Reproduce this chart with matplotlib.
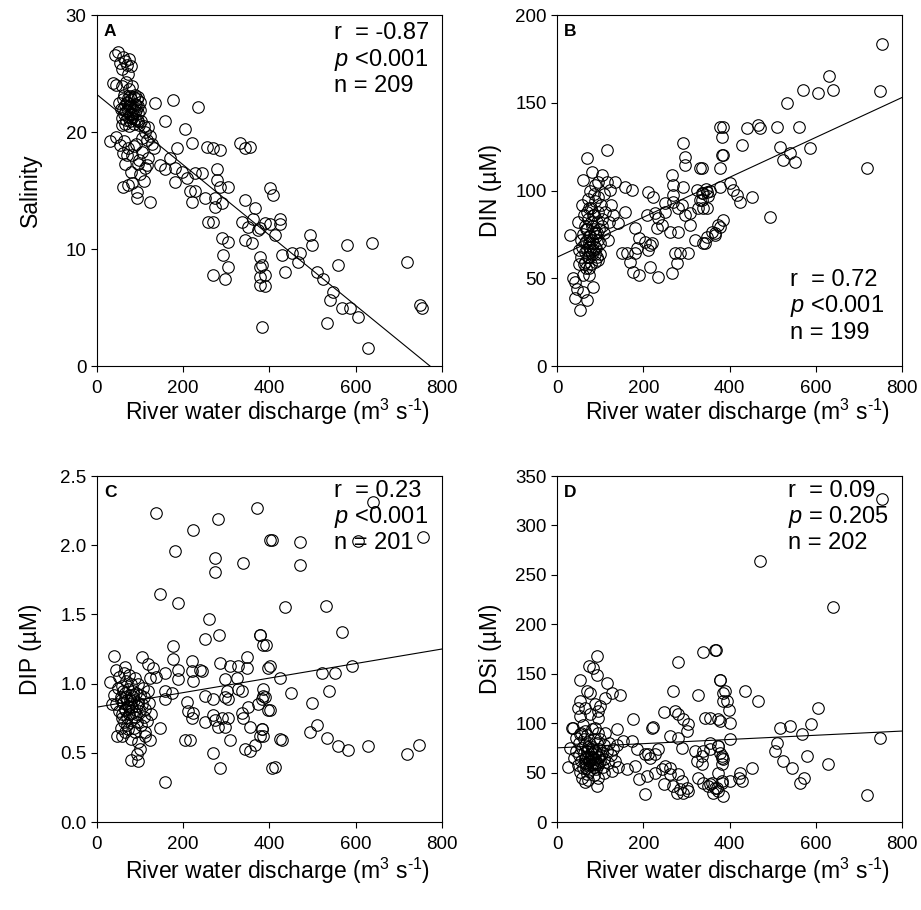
import matplotlib
matplotlib.use('Agg')
import matplotlib.pyplot as plt
from matplotlib.ticker import FormatStrFormatter

plt.rcParams['font.family'] = ['Liberation Sans', 'DejaVu Sans']
plt.rcParams['mathtext.fontset'] = 'custom'
plt.rcParams['mathtext.it'] = 'Liberation Sans:italic'
plt.rcParams['mathtext.rm'] = 'Liberation Sans'

# ---- panel A: salinity ----
sal_x = [42, 53, 70, 48, 60, 65, 75, 80, 58, 72,
         37, 58, 81, 88, 45, 68, 75, 95, 100,
         50, 55, 60, 62, 65, 68, 70, 72, 75, 76, 78, 80, 82, 84, 86, 88, 90, 92, 95, 98, 100, 103, 57, 66, 74, 85, 63, 93,
         67, 73, 79, 83, 87, 91, 96, 71, 77, 89, 94, 61, 69,
         111, 123, 58, 108, 115, 118, 105, 128, 133,
         53, 72, 70, 81, 104, 118, 111, 30, 45, 62, 90, 98, 85, 60,
         65, 95, 116, 72, 60, 81, 93, 93, 123, 80, 100, 108,
         134, 176, 234, 204, 158, 220, 255, 269, 285, 332, 343, 186, 145, 170,
         158, 181, 197, 181, 209, 227, 243, 278, 216, 227, 250, 274, 220, 274, 290, 285, 304, 278, 257, 269, 290, 304, 292, 304, 269, 297,
         343, 366, 336, 350, 373, 343, 359, 378, 378, 378, 378, 383,
         401, 408, 355, 362, 378, 390, 401, 424, 424, 413, 383, 390, 390, 429, 436, 452, 471, 466, 494, 499, 510, 524, 559, 580, 638,
         547, 540, 568, 587, 605, 533, 628, 719, 749, 754]
sal_y = [26.6, 25.9, 25.7, 26.8, 26.4, 26.1, 26.2, 25.6, 25.4, 25.0,
         24.2, 23.9, 23.9, 23.2, 24.0, 24.3, 23.7, 23.0, 22.6,
         22.5, 22.0, 22.8, 21.5, 22.3, 21.0, 22.6, 21.8, 22.2, 20.9, 21.5, 22.8, 21.2, 22.0, 20.7, 21.7, 22.3, 21.0, 21.6, 20.6, 21.9, 20.9, 21.2, 20.7, 20.5, 23.0, 23.2, 22.8,
         21.8, 21.3, 22.1, 21.5, 22.4, 21.9, 22.2, 22.9, 23.1, 21.1, 20.9, 22.0, 22.5,
         20.0, 19.7, 20.6, 20.5, 19.3, 20.4, 19.5, 19.0, 18.6,
         18.9, 18.6, 18.0, 18.0, 18.3, 17.8, 16.9, 19.2, 19.6, 19.2, 19.0, 17.6, 18.8, 18.2,
         17.3, 17.3, 17.2, 15.5, 15.3, 15.6, 14.9, 14.4, 14.0, 16.6, 16.4, 15.8,
         22.5, 22.7, 22.1, 20.3, 20.9, 19.1, 18.7, 18.6, 18.5, 19.1, 18.6, 18.6, 17.2, 17.8,
         16.8, 16.9, 16.6, 15.7, 16.1, 16.5, 16.5, 16.8, 15.0, 15.0, 14.4, 14.4, 14.0, 13.6, 13.9, 15.3, 15.3, 15.9, 12.3, 12.3, 10.9, 10.6, 9.5, 8.5, 7.8, 7.4,
         14.2, 13.5, 12.3, 11.9, 11.6, 10.8, 10.5, 9.3, 8.5, 7.6, 6.9, 3.3,
         15.2, 14.6, 18.7, 12.6, 11.8, 12.2, 12.1, 12.6, 12.1, 11.2, 8.6, 7.8, 6.8, 9.5, 8.0, 9.7, 9.7, 8.9, 11.2, 10.3, 8.0, 7.4, 8.6, 10.3, 10.5,
         6.3, 5.6, 5.0, 5.0, 4.2, 3.7, 1.5, 8.9, 5.2, 5.0]

# ---- panel B: DIN ----
din_x = [115, 70, 80, 61, 104, 115, 134, 158, 173, 88, 96, 123, 30, 49, 69, 73,
         38, 46, 61, 42, 69, 53, 84, 42, 73, 88, 65, 84, 96,
         55, 58, 60, 62, 64, 66, 68, 70, 72, 74, 75, 77, 78, 80, 82, 84, 85, 87, 88, 90, 92, 94, 96, 98, 100, 102, 105, 108, 110,
         63, 71, 56, 67, 79, 92, 100, 52, 59, 76, 86, 95, 104, 112, 120, 118, 125, 130, 60, 50, 75,
         65, 69, 73, 77, 81, 85, 89, 93, 71, 79, 87, 67, 83, 91, 75,
         158, 142, 150, 162, 169, 181, 181, 189, 185, 177, 189, 204, 216, 220, 212, 216, 235, 266, 262, 281, 274, 285, 304, 278,
         212, 223, 208, 227, 235, 243, 231, 250, 270, 250, 270, 270, 266, 281, 289, 297, 308, 308, 293, 293, 297, 297,
         336, 324, 336, 347, 336, 328, 347, 320, 343, 359, 366, 378, 378, 382, 382, 378, 378,
         753, 749, 718, 631, 641, 606, 571, 533, 494, 560, 509, 471, 467, 440, 386, 428, 386, 517, 540, 587, 525, 552,
         331, 339, 401, 409, 417, 424, 451, 331, 339, 386, 374, 366, 347, 339, 345, 355, 350]
din_y = [123, 118.7, 110.7, 106, 108.8, 105, 105, 102.2, 100.3, 103, 96.5, 100.3, 74.6, 82, 88, 90,
         50, 44, 42.3, 38.5, 37.6, 31.9, 45.2, 48, 55.7, 59.4, 59.4, 66, 60.4,
         62, 68, 75, 58, 80, 65, 71, 78, 84, 62, 68, 74, 90, 64, 80, 70, 86, 76, 94, 67, 82, 72, 88, 78, 70, 92, 84, 76, 98,
         86, 95, 72, 56, 58, 62, 64, 66, 92, 100, 98, 105, 80, 88, 82, 72, 92, 86, 52, 58, 52,
         70, 66, 74, 66, 72, 78, 68, 76, 62, 82, 64, 78, 86, 74, 70,
         88, 81.3, 64.2, 64.2, 59.4, 64.2, 78.5, 72.8, 67, 53.7, 51.9, 70.8, 69, 69.9, 66, 56.6, 50.9, 52.8, 76.5, 76.5, 64.2, 64.2, 64.2, 58.5,
         99.3, 96.5, 86, 87, 84.2, 80.3, 78.5, 92.7, 93.6, 88, 97.4, 103, 108.8, 89.9, 91.7, 86, 87, 80.3, 102.2, 126.9, 119.3, 114.5,
         112.6, 100.3, 98.4, 99.3, 94.6, 89.9, 89.9, 71.8, 69.9, 76.5, 75.6, 79.4, 136.3, 130.7, 120.2, 112.6, 102.2,
         183.3, 156.7, 113, 165.4, 157.3, 155.4, 157.3, 149.7, 85.1, 136.3, 136.3, 135.4, 137.3, 135.4, 136.3, 125.9, 120.2, 125, 121.2, 124, 117.4, 116.4,
         112.6, 98.4, 104.1, 100.3, 97.4, 93.6, 96.5, 94.6, 89.9, 83.2, 80.3, 74.6, 73.7, 69.9, 101, 100, 97]

# ---- panel C: DIP ----
dip_x = [138, 181, 222, 281, 370, 401, 274, 274, 339, 146, 187, 260, 250, 283, 378, 391, 177, 177, 39, 104, 119, 131,
         220, 243, 239, 158, 189, 189, 138, 123, 220, 223, 285, 308, 328, 347, 347, 297, 324, 301, 328, 336, 401,
         158, 173, 250, 270, 297, 304, 208, 212, 223, 220, 250, 270, 274, 289, 304, 281, 297,
         336, 339, 355, 351, 374, 382, 386, 397, 382, 378, 366, 355, 343, 308, 204, 216, 270, 285, 405, 158,
         146, 123, 111, 111, 80, 96, 92, 100, 46, 65, 73, 88, 30, 158,
         40, 45, 48, 50, 52, 55, 57, 58, 60, 62, 63, 65, 66, 68, 70, 70, 72, 74, 75, 76, 78, 80, 80, 82, 84, 85, 86, 88,
         90, 90, 92, 94, 95, 98, 100, 102, 104, 106, 108, 110, 112, 115, 118, 120, 125, 55, 65, 45, 35, 58, 78, 95,
         56, 61, 67, 71, 77, 83, 59, 64, 69, 74, 81, 87, 93,
         641, 755, 606, 405, 471, 471, 436, 531, 567, 378, 386, 397, 424, 521, 552, 591, 386, 390, 401, 451, 539,
         498, 510, 494, 533, 560, 581, 629, 718, 747, 424, 428, 413, 382, 386]
dip_y = [2.23, 1.96, 2.11, 2.19, 2.27, 2.04, 1.91, 1.81, 1.87, 1.65, 1.58, 1.47, 1.32, 1.35, 1.35, 1.28, 1.27, 1.18, 1.20, 1.19, 1.14, 1.11,
         1.16, 1.09, 1.10, 1.08, 1.10, 1.03, 1.05, 1.04, 1.09, 1.02, 1.15, 1.13, 1.13, 1.19, 1.11, 1.03, 1.04, 0.95, 0.96, 0.95, 1.13,
         0.89, 0.93, 0.91, 0.89, 0.90, 0.89, 0.87, 0.80, 0.79, 0.75, 0.72, 0.77, 0.74, 0.75, 0.75, 0.69, 0.69,
         0.79, 0.75, 0.69, 0.83, 0.85, 0.89, 0.91, 0.81, 0.67, 0.62, 0.56, 0.51, 0.53, 0.59, 0.59, 0.59, 0.50, 0.39, 0.39, 0.29,
         0.68, 0.59, 0.62, 0.65, 0.45, 0.44, 0.49, 0.53, 0.62, 0.65, 0.67, 0.65, 1.01, 0.95,
         0.92, 0.85, 0.97, 0.80, 1.05, 0.90, 0.75, 0.98, 0.86, 1.08, 0.72, 0.93, 0.81, 1.02, 0.88, 0.70, 0.96, 0.78, 1.06, 0.85, 0.92, 0.74, 1.00, 0.83, 0.95, 0.68, 0.88, 1.04,
         0.78, 0.93, 0.72, 0.86, 1.00, 0.80, 0.92, 0.70, 0.85, 0.97, 0.76, 0.90, 0.82, 0.73, 0.95, 0.86, 0.78, 0.68, 1.12, 1.10, 0.85, 0.62, 0.60, 0.58,
         0.88, 0.95, 0.90, 0.84, 0.88, 0.90, 0.78, 0.82, 0.76, 0.83, 0.79, 0.76, 0.84,
         2.31, 2.06, 2.03, 2.04, 2.02, 1.86, 1.55, 1.56, 1.37, 1.35, 1.28, 1.11, 1.04, 1.08, 1.08, 1.13, 0.96, 0.90, 0.81, 0.93, 0.95,
         0.86, 0.70, 0.65, 0.61, 0.55, 0.52, 0.55, 0.49, 0.56, 0.60, 0.59, 0.40, 0.67, 0.62]

# ---- panel D: DSi ----
dsi_x = [92, 73, 84, 53, 92, 115, 69, 77, 127, 146, 111, 53, 49, 65, 88, 96, 100, 77, 53, 96, 88, 65, 38, 53, 138,
         177, 220, 222, 247, 270, 281, 338, 368, 328, 378, 386, 386, 274, 281, 293, 304, 301, 343, 374, 262, 281, 289,
         320, 336, 339, 336, 324, 374, 378, 382, 154, 173, 185, 204, 216, 212, 227, 235, 142, 162, 181, 189, 208, 227,
         243, 250, 262, 247, 262, 281, 289, 270, 285, 301, 278, 293, 304, 204, 328, 339, 351, 359, 366, 374, 382, 374,
         382, 26, 53, 65, 92, 69, 34, 30,
         40, 45, 48, 50, 52, 55, 56, 58, 60, 62, 63, 65, 66, 68, 70, 70, 72, 74, 75, 76, 78, 80, 80, 82, 84, 85, 86, 88,
         88, 90, 92, 94, 95, 96, 98, 100, 100, 104, 106, 108, 110, 112, 115, 118, 120, 125, 130, 135, 140, 58, 72, 95,
         110, 128, 44, 60,
         64, 68, 73, 78, 83, 87, 91, 97, 102, 67, 76, 85, 93, 71, 81,
         753, 471, 639, 366, 378, 390, 394, 398, 436, 467, 378, 401, 355, 401, 374, 382, 386, 355, 355, 517, 540, 567,
         590, 604, 510, 506, 525, 545, 564, 572, 579, 629, 718, 749, 401, 421, 424, 428, 451, 386, 382, 355, 362, 370]
dsi_y = [167.7, 157.6, 155.9, 144.1, 149.2, 140.7, 132.3, 130.6, 130.6, 128.9, 125.6, 122.2, 115.4, 115.4, 118.9, 112.1, 117.2, 108.8, 107.1, 105.4, 95.3, 91.9, 95.3, 88.6, 93.6,
         103.7, 95.3, 96, 111.4, 132.3, 161.6, 171.7, 173.7, 128.9, 144.1, 130.6, 122.2, 112.1, 108.8, 103.7, 98.7, 91.9, 105.4, 103.7, 86.9, 85.2, 75.1,
         71.7, 66.7, 71.7, 58.2, 61.6, 76.8, 70, 65, 81.8, 81.8, 73.4, 68.4, 65, 68.4, 68.4, 73.4, 55.2, 53.5, 56.9, 43.1, 46.5, 49.8,
         53.2, 56.6, 54.9, 38.1, 48.2, 48.2, 41.4, 36.4, 33, 34.6, 29.6, 29.6, 31.3, 27.9, 44.7, 39.7, 36.4, 39.7, 34.6, 31.3, 39.7, 49.8,
         58.2, 55.2, 50.2, 40.1, 36.8, 48.2, 95.3, 75.1,
         65, 72, 58, 80, 68, 62, 90, 75, 55, 70, 84, 64, 78, 58, 72, 88, 66, 52, 80, 62, 70, 58, 94, 76, 66, 48, 84, 60,
         72, 54, 80, 66, 90, 58, 74, 62, 84, 70, 56, 78, 64, 90, 72, 60, 80, 68, 74, 62, 78, 45, 42, 45,
         50, 52, 85, 98,
         60, 66, 62, 66, 60, 64, 70, 66, 68, 55, 58, 56, 60, 76, 74,
         327, 264, 217, 174.4, 144.1, 132.3, 122.2, 113.8, 132.3, 122.2, 101.7, 100, 105, 83.5, 76.8, 66.7, 63.3, 80.1, 73.4, 95.3, 97, 88.6,
         99.4, 115, 80.1, 71.7, 61.6, 54.9, 39.7, 44.7, 66.7, 58.2, 27.2, 85.2, 41.4, 44.7, 49.8, 41.4, 54.9, 26.2, 41.4, 38, 29.6, 34.6]

# regression lines (value at x=0 and x=800)
fit_x = [0, 800]
fit_sal = [23.2, -0.84]
fit_din = [62, 153]
fit_dip = [0.83, 1.25]
fit_dsi = [75, 92]

panels = [
    ('A', sal_x, sal_y, fit_sal, 'Salinity', (0, 30), [0, 10, 20, 30], None,
     ['r  = -0.87', '$p$ <0.001', 'n = 209'], (0.686, [0.948, 0.872, 0.797])),
    ('B', din_x, din_y, fit_din, 'DIN (µM)', (0, 200), [0, 50, 100, 150, 200], None,
     ['r  = 0.72', '$p$ <0.001', 'n = 199'], (0.676, [0.245, 0.170, 0.095])),
    ('C', dip_x, dip_y, fit_dip, 'DIP (µM)', (0, 2.5), [0, 0.5, 1.0, 1.5, 2.0, 2.5], '%.1f',
     ['r  = 0.23', '$p$ <0.001', 'n = 201'], (0.688, [0.958, 0.882, 0.806])),
    ('D', dsi_x, dsi_y, fit_dsi, 'DSi (µM)', (0, 350), [0, 50, 100, 150, 200, 250, 300, 350], None,
     ['r  = 0.09', '$p$ = 0.205', 'n = 202'], (0.670, [0.958, 0.882, 0.806])),
]

fig = plt.figure(figsize=(9.21, 9.10), dpi=100)
rects = [[0.1053, 0.5978, 0.3746, 0.3857], [0.6048, 0.5978, 0.3746, 0.3857],
         [0.1053, 0.0967, 0.3746, 0.3802], [0.6048, 0.0967, 0.3746, 0.3802]]
xlab_y = [-0.088, -0.088, -0.098, -0.098]

for rect, ly, (letter, xs, ys, fit, ylab, ylim, yticks, fmt, stats, (tx, tys)) in zip(rects, xlab_y, panels):
    ax = fig.add_axes(rect)
    ax.plot(xs, ys, 'o', mfc='none', mec='black', mew=0.8, ms=8.3, zorder=3)
    ax.plot(fit_x, fit, color='black', lw=0.8, zorder=2)
    ax.set_xlim(0, 800)
    ax.set_ylim(*ylim)
    ax.set_xticks([0, 200, 400, 600, 800])
    ax.set_yticks(yticks)
    if fmt:
        ax.yaxis.set_major_formatter(FormatStrFormatter(fmt))
    ax.tick_params(direction='out', length=4, width=0.8, labelsize=13.5, top=False, right=False)
    ax.tick_params(axis='x', pad=6)
    for sp in ax.spines.values():
        sp.set_linewidth(0.8)
    ax.set_xlabel('River water discharge (m$^{3}$ s$^{\\text{-1}}$)', fontsize=16.5)
    ax.xaxis.set_label_coords(0.523, ly)
    ax.set_ylabel(ylab, fontsize=16.5)
    ax.yaxis.set_label_coords(-0.16, 0.5)
    ax.text(0.02, 0.975, letter, transform=ax.transAxes, fontsize=12.5, fontweight='bold', va='top', ha='left')
    for s, ty in zip(stats, tys):
        ax.text(tx, ty, s, transform=ax.transAxes, fontsize=17, va='center', ha='left')

fig.savefig('out.png', dpi=100)
